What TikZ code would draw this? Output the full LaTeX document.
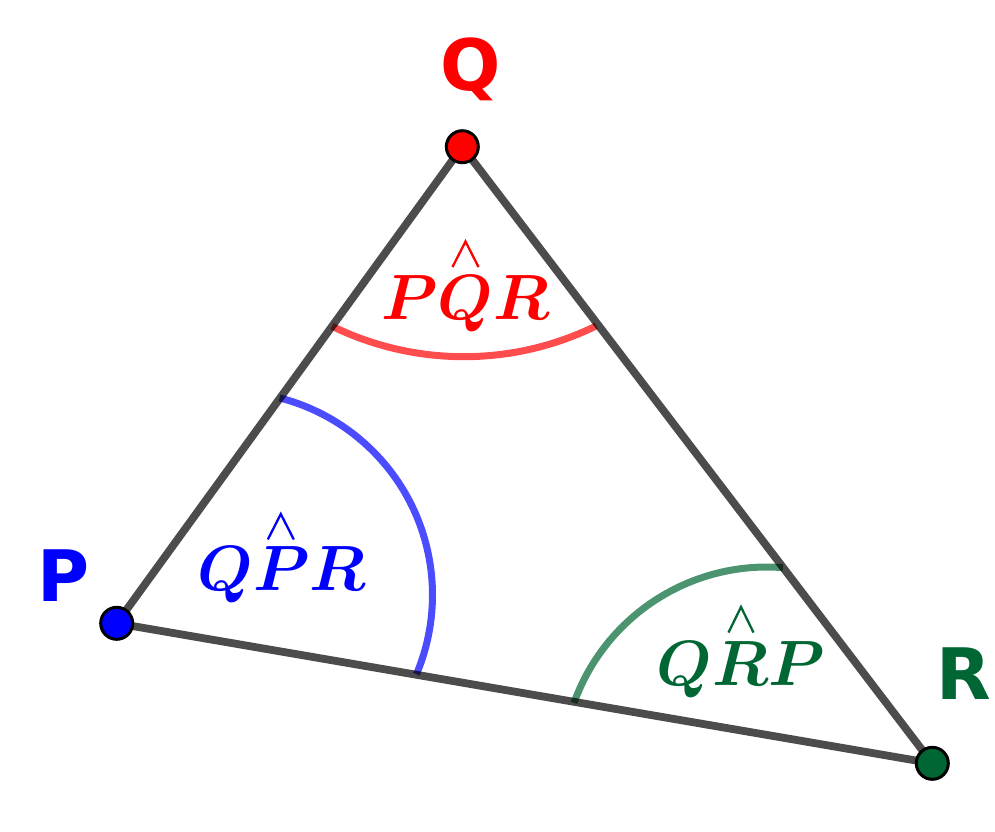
\RequirePackage{fix-cm}
\documentclass[tikz,border=0pt]{standalone}
\usepackage{amsmath,amssymb}
\usepackage{fontspec}
\newfontfamily\labfont{DejaVu Sans}
\definecolor{ggred}{HTML}{FF0000}
\definecolor{ggblue}{HTML}{0000FF}
\definecolor{gggreen}{HTML}{006633}
\tikzset{
  side/.style={line width=7.8pt, draw=black, draw opacity=0.7, line join=round},
  anglearc/.style={line width=7pt, draw=#1, draw opacity=0.7},
  vertex/.style={circle, fill=#1, draw=black, line width=3pt, minimum size=32pt, inner sep=0pt},
  vlabel/.style={text=#1, font=\labfont\bfseries\fontsize{71}{80}\selectfont, inner sep=0pt, anchor=base},
  alabel/.style={text=#1, font=\fontsize{64}{72}\selectfont, inner sep=0pt, anchor=base},
  hatmark/.style={draw=#1, line width=2.3pt, line join=miter}
}
\begin{document}
\begin{tikzpicture}[x=1pt,y=-1pt]
\useasboundingbox (0,0) rectangle (995,831);
\coordinate (P) at (116.7,623.3);
\coordinate (Q) at (462.3,146.7);
\coordinate (R) at (932.3,763.3);
\coordinate (cq) at (463.8,56.7);
\coordinate (cp) at (229,595);
\coordinate (cr) at (767,772);
% angle arcs
\draw[anglearc=ggred] (cq) ++(116.07:300) arc[start angle=116.07, end angle=63.8, radius=300];
\draw[anglearc=ggblue] (cp) ++(-75.6:203.5) arc[start angle=-75.6, end angle=22.9, radius=203.5];
\draw[anglearc=gggreen] (cr) ++(-160.27:205) arc[start angle=-160.27, end angle=-85.57, radius=205];
% sides
\draw[side] (P) -- (Q) -- (R) -- cycle;
% vertices
\node[vertex=ggblue] (Pdot) at (P) {};
\node[vertex=ggred] (Qdot) at (Q) {};
\node[vertex=gggreen] (Rdot) at (R) {};
% vertex labels
\node[vlabel=ggred] (Qlab) at (471,90) {Q};
\node[vlabel=ggblue] (Plab) at (63.5,601) {P};
\node[vlabel=gggreen] (Rlab) at (963.5,699) {R};
% angle labels
\node[alabel=ggred] (aQ) at (465.5,319.3) {$\boldsymbol{PQR}$};
\node[alabel=ggblue] (aP) at (282,590.7) {$\boldsymbol{QPR}$};
\node[alabel=gggreen] (aR) at (740.8,685) {$\boldsymbol{QRP}$};
% hats
\coordinate (hq) at (465.5,241.5);
\coordinate (hp) at (280.8,514);
\coordinate (hr) at (741,607);
\draw[hatmark=ggred] (hq) ++(-13,25.5) -- (hq) -- ++(13,25.5);
\draw[hatmark=ggblue] (hp) ++(-13,25.5) -- (hp) -- ++(13,25.5);
\draw[hatmark=gggreen] (hr) ++(-12.5,25.5) -- (hr) -- ++(12.5,25.5);
\end{tikzpicture}
\end{document}
